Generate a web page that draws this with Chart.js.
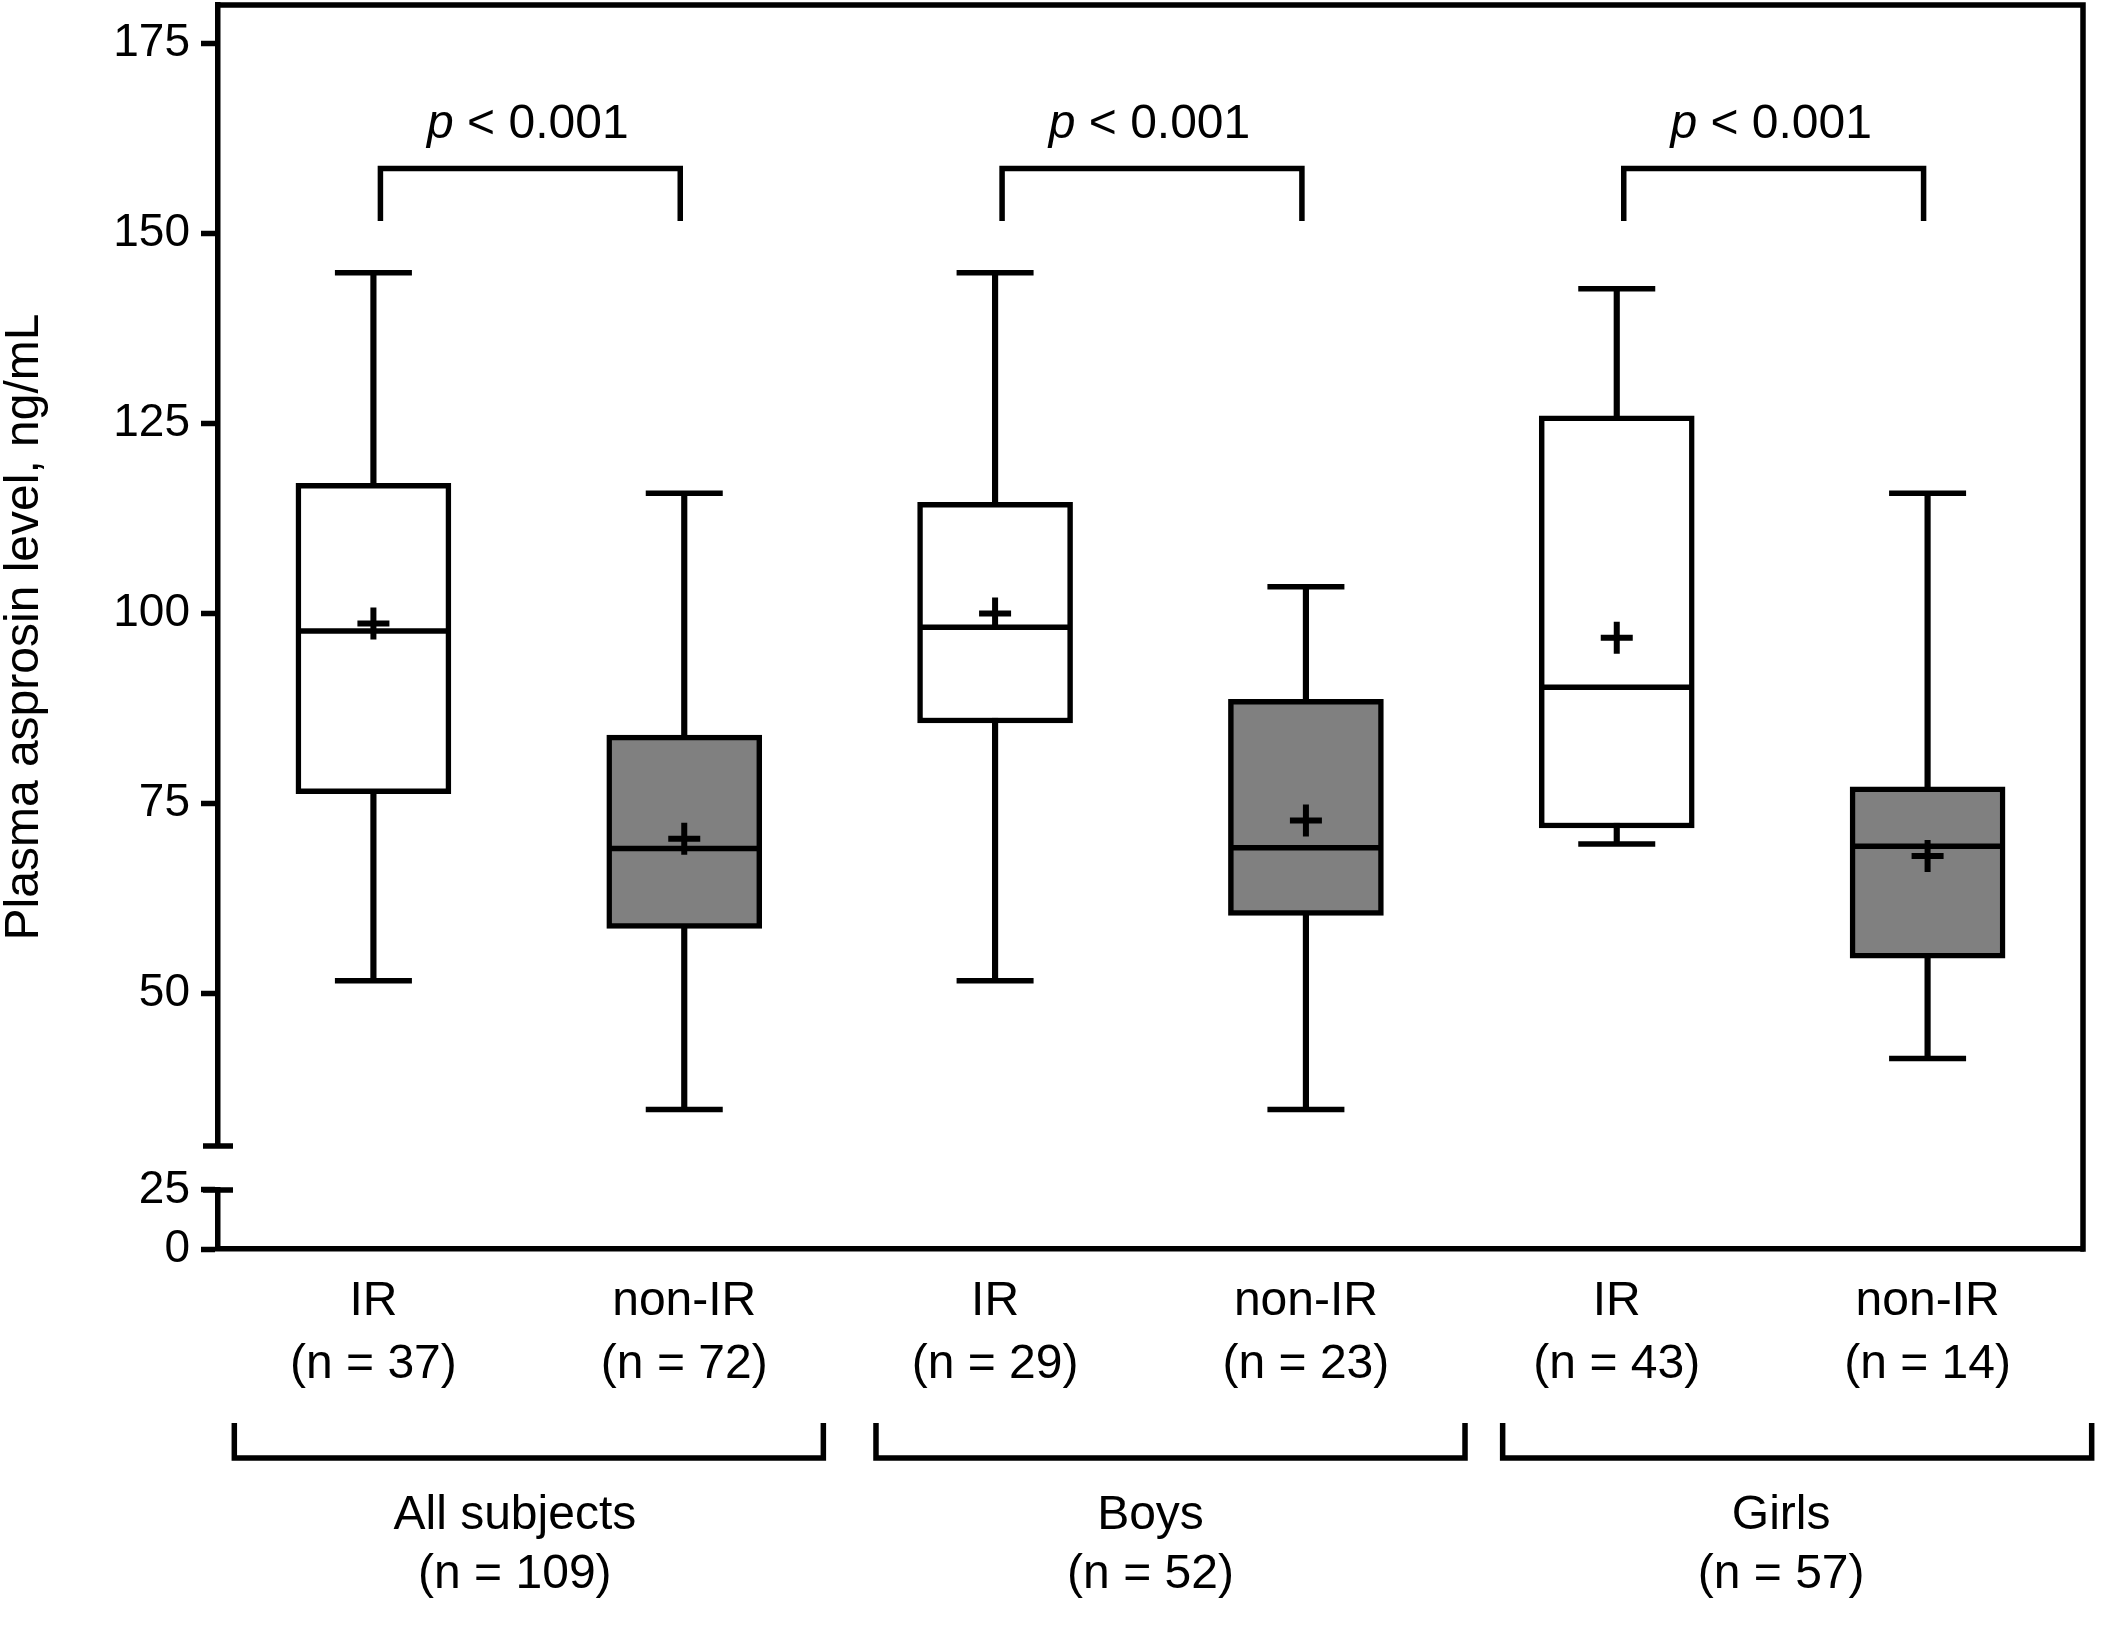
<!DOCTYPE html>
<html>
<head>
<meta charset="utf-8">
<script src="https://cdn.jsdelivr.net/npm/chart.js@4.4.1/dist/chart.umd.min.js"></script>
<style>
  html, body { margin: 0; padding: 0; background: #fff; overflow: hidden; }
  canvas { display: block; }
</style>
</head>
<body>
<canvas id="chart" width="2101" height="1642" style="width:2101px;height:1642px"></canvas>
<script>
// groups along the x axis
const categories = ['IR', 'non-IR', 'IR', 'non-IR', 'IR', 'non-IR'];
const sampleSizes = [37, 72, 29, 23, 43, 14];
const groupNames = ['All subjects', 'Boys', 'Girls'];
const groupSizes = [109, 52, 57];

// box plot values, ng/mL
const whiskerMin = [51.7, 34.8, 51.7, 34.8, 69.7, 41.5];
const quartile1 = [76.3, 58.6, 85.6, 60.3, 71.8, 54.7];
const medians = [97.7, 69.1, 98.2, 69.2, 90.3, 69.4];
const quartile3 = [117.1, 84.0, 114.6, 88.7, 126.0, 77.2];
const whiskerMax = [144.8, 115.8, 144.8, 103.5, 142.7, 115.8];
const means = [98.7, 70.4, 100.0, 72.8, 96.8, 68.1];

const pValues = ['< 0.001', '< 0.001', '< 0.001'];

// broken y axis
const upperTicks = [50, 75, 100, 125, 150, 175];
const lowerTicks = [0, 25];
const upperRange = [30, 180];
const lowerRange = [0, 25];

// significance brackets (axis units)
const bracketTop = 158.5;
const bracketLeg = 151.6;
const pTextLevel = 162.5;

const FONT = '"Liberation Sans", Arial, Helvetica, sans-serif';
const LW = 5.5;
const boxColors = categories.map(c => c === 'IR' ? '#ffffff' : '#808080');

// small layout tweaks for the hand drawn group brackets
const groupBracketShift = [0, 20, 25];
const groupLabelShift = [-14, 0, 9];

// scales must not push the plot area around with label overhang
function noPadding(s) {
  s.paddingLeft = 0;
  s.paddingRight = 0;
  s.paddingTop = 0;
  s.paddingBottom = 0;
}

const annotations = {
  id: 'annotations',
  afterDraw(chart) {
    const ctx = chart.ctx;
    const area = chart.chartArea;
    const xs = chart.scales.x;
    const ys = chart.scales.y;
    const yl = chart.scales.yLow;
    const axisX = area.left;

    ctx.save();
    ctx.strokeStyle = '#000';
    ctx.fillStyle = '#000';
    ctx.lineWidth = LW;
    ctx.lineCap = 'butt';
    ctx.lineJoin = 'miter';

    // frame: top and right
    ctx.beginPath();
    ctx.moveTo(area.left - LW / 2, area.top);
    ctx.lineTo(area.right, area.top);
    ctx.lineTo(area.right, area.bottom + LW / 2);
    ctx.stroke();

    // axis break caps
    ctx.beginPath();
    let yb = ys.getPixelForValue(upperRange[0]);
    ctx.moveTo(axisX - 15, yb);
    ctx.lineTo(axisX + 15, yb);
    yb = yl.getPixelForValue(lowerRange[1]);
    ctx.moveTo(axisX - 15, yb);
    ctx.lineTo(axisX + 15, yb);
    ctx.stroke();

    const catW = xs.width / categories.length;
    const italic = 'italic 48px ' + FONT;
    const regular = '48px ' + FONT;

    for (let g = 0; g < groupNames.length; g++) {
      const c0 = xs.getPixelForValue(2 * g);
      const c1 = xs.getPixelForValue(2 * g + 1);
      const mid = (c0 + c1) / 2;

      // p value bracket
      const top = ys.getPixelForValue(bracketTop);
      const leg = ys.getPixelForValue(bracketLeg);
      ctx.beginPath();
      ctx.moveTo(c0 + 7, leg);
      ctx.lineTo(c0 + 7, top);
      ctx.lineTo(c1 - 4, top);
      ctx.lineTo(c1 - 4, leg);
      ctx.stroke();

      const rest = ' ' + pValues[g];
      ctx.font = italic;
      const wp = ctx.measureText('p').width;
      ctx.font = regular;
      const wr = ctx.measureText(rest).width;
      const sx = mid - 1 - (wp + wr) / 2;
      const base = ys.getPixelForValue(pTextLevel);
      ctx.textAlign = 'left';
      ctx.textBaseline = 'alphabetic';
      ctx.font = italic;
      ctx.fillText('p', sx, base);
      ctx.font = regular;
      ctx.fillText(rest, sx + wp, base);

      // group bracket under the axis
      const bc = mid + groupBracketShift[g];
      const half = catW * 0.9475;
      const legTop = area.bottom + 174;
      const legBottom = area.bottom + 209;
      ctx.beginPath();
      ctx.moveTo(bc - half, legTop);
      ctx.lineTo(bc - half, legBottom);
      ctx.lineTo(bc + half, legBottom);
      ctx.lineTo(bc + half, legTop);
      ctx.stroke();

      const lc = mid + groupLabelShift[g];
      ctx.textAlign = 'center';
      ctx.textBaseline = 'middle';
      ctx.font = regular;
      ctx.fillText(groupNames[g], lc, area.bottom + 267);
      ctx.fillText('(n = ' + groupSizes[g] + ')', lc, area.bottom + 326);
    }
    ctx.restore();
  }
};

const hiddenLeft = {
  display: true,
  position: 'left',
  border: { display: false },
  grid: { drawOnChartArea: false, drawTicks: false },
  ticks: { display: false }
};

new Chart(document.getElementById('chart'), {
  type: 'bar',
  data: {
    labels: categories.map((c, i) => [c, '(n = ' + sampleSizes[i] + ')']),
    datasets: [
      {
        type: 'bar', label: 'whiskers', xAxisID: 'x', yAxisID: 'y',
        data: whiskerMin.map((v, i) => [v, whiskerMax[i]]),
        backgroundColor: '#000', borderWidth: 0, barThickness: LW, grouped: false, order: 4
      },
      {
        type: 'bar', label: 'boxes', xAxisID: 'x', yAxisID: 'y',
        data: quartile1.map((v, i) => [v, quartile3[i]]),
        backgroundColor: boxColors, borderColor: '#000', borderWidth: LW,
        borderSkipped: false, barThickness: 155, grouped: false, order: 3
      },
      {
        type: 'line', label: 'median', xAxisID: 'x', yAxisID: 'y', data: medians,
        showLine: false, pointStyle: 'line', pointRadius: 75,
        pointBorderWidth: LW, pointBorderColor: '#000', order: 2
      },
      {
        type: 'line', label: 'min', xAxisID: 'x', yAxisID: 'y', data: whiskerMin,
        showLine: false, pointStyle: 'line', pointRadius: 38.5,
        pointBorderWidth: LW, pointBorderColor: '#000', order: 1
      },
      {
        type: 'line', label: 'max', xAxisID: 'x', yAxisID: 'y', data: whiskerMax,
        showLine: false, pointStyle: 'line', pointRadius: 38.5,
        pointBorderWidth: LW, pointBorderColor: '#000', order: 1
      },
      {
        type: 'line', label: 'mean', xAxisID: 'x', yAxisID: 'y', data: means,
        showLine: false, pointStyle: 'cross', pointRadius: 16,
        pointBorderWidth: 6, pointBorderColor: '#000', order: 0
      }
    ]
  },
  options: {
    responsive: false,
    devicePixelRatio: 1,
    animation: false,
    events: [],
    layout: { autoPadding: false, padding: { top: 5, right: 18, bottom: 0, left: 0 } },
    plugins: { legend: { display: false }, tooltip: { enabled: false } },
    scales: {
      x: {
        type: 'category',
        offset: true,
        border: { display: true, width: LW, color: '#000' },
        grid: { drawOnChartArea: false, drawTicks: false },
        ticks: {
          color: '#000', padding: 22, maxRotation: 0, autoSkip: false,
          font: { family: FONT, size: 48, lineHeight: 1.3 }
        },
        afterFit(s) { noPadding(s); s.height = 393; }
      },
      yTitle: Object.assign({}, hiddenLeft, {
        type: 'linear', axis: 'y', weight: 10,
        title: {
          display: true, text: 'Plasma asprosin level, ng/mL', color: '#000',
          font: { family: FONT, size: 48, lineHeight: 1 },
          padding: { top: 1, bottom: 0 }
        },
        afterFit(s) { noPadding(s); s.width = 60; }
      }),
      y: {
        type: 'linear', position: 'left', stack: 'yAxis', stackWeight: 1140, weight: 3,
        min: upperRange[0], max: upperRange[1],
        afterBuildTicks(s) { s.ticks = upperTicks.map(v => ({ value: v })); },
        border: { display: true, width: LW, color: '#000' },
        grid: { drawOnChartArea: false, tickLength: 17, tickWidth: LW, tickColor: '#000' },
        ticks: { color: '#000', padding: 11, autoSkip: false, font: { family: FONT, size: 46 } },
        afterFit(s) { noPadding(s); s.width = 158; }
      },
      yGap: Object.assign({}, hiddenLeft, {
        type: 'linear', axis: 'y', stack: 'yAxis', stackWeight: 44, weight: 2,
        min: 0, max: 1,
        afterFit(s) { noPadding(s); s.width = 158; }
      }),
      yLow: {
        type: 'linear', axis: 'y', position: 'left', stack: 'yAxis', stackWeight: 59, weight: 1,
        min: lowerRange[0], max: lowerRange[1],
        afterBuildTicks(s) { s.ticks = lowerTicks.map(v => ({ value: v })); },
        border: { display: true, width: LW, color: '#000' },
        grid: { drawOnChartArea: false, tickLength: 17, tickWidth: LW, tickColor: '#000' },
        ticks: { color: '#000', padding: 11, autoSkip: false, font: { family: FONT, size: 46 } },
        afterFit(s) { noPadding(s); s.width = 158; }
      }
    }
  },
  plugins: [annotations]
});
</script>
</body>
</html>
